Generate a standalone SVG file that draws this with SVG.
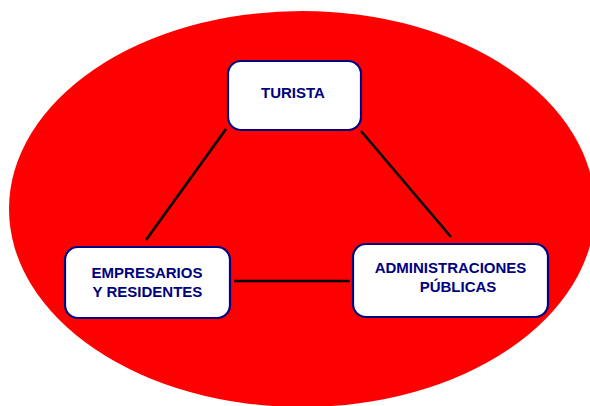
<svg xmlns="http://www.w3.org/2000/svg" width="590" height="406" viewBox="0 0 590 406">
<style>
.box{fill:#fff;stroke:#000080;stroke-width:2.2}
.lbl{font-family:"Liberation Sans",Arial,sans-serif;font-weight:bold;font-size:15px;fill:#000080;text-anchor:middle}
.edge{stroke:#000;stroke-width:2.6;fill:none}
</style>
<rect x="0" y="0" width="590" height="406" fill="#fff"/>
<ellipse id="background" cx="302" cy="209" rx="293" ry="198" fill="#ff0000"/>
<g id="connectors">
<line class="edge" x1="226" y1="129" x2="146" y2="240"/>
<line class="edge" x1="361" y1="131" x2="451" y2="237"/>
<line class="edge" x1="234" y1="281" x2="350" y2="281"/>
</g>
<g id="turista">
<rect class="box" x="228" y="61" width="133" height="69" rx="13"/>
<text class="lbl" x="293" y="98">TURISTA</text>
</g>
<g id="empresarios">
<rect class="box" x="65" y="247" width="165" height="71" rx="13"/>
<text class="lbl" x="147" y="278">EMPRESARIOS</text>
<text class="lbl" x="147.5" y="297">Y RESIDENTES</text>
</g>
<g id="administraciones">
<rect class="box" x="353" y="244" width="195" height="73" rx="13"/>
<text class="lbl" x="450.5" y="273">ADMINISTRACIONES</text>
<text class="lbl" x="458" y="292">PÚBLICAS</text>
</g>
</svg>
